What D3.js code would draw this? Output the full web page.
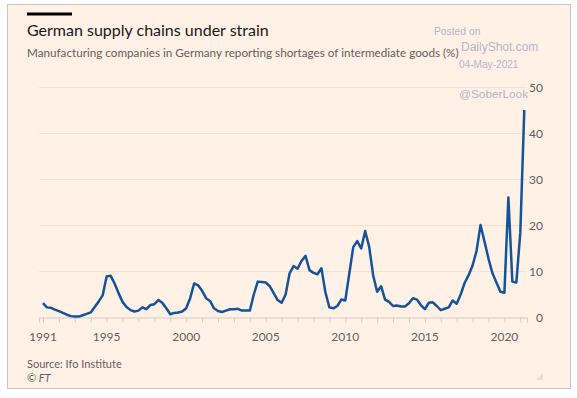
<!DOCTYPE html>
<html>
<head>
<meta charset="utf-8">
<script src="https://cdn.jsdelivr.net/npm/d3@7"></script>
<style>
  body { margin: 0; background: #fff; }
  svg { display: block; }
</style>
</head>
<body>
<div id="chart"></div>
<script>
// Ifo survey, quarterly readings (share of firms reporting shortages, %)
var startYear = 1991;
var shortages = [
  3.1, 2.2, 2.1, 1.7,      // 1991
  1.4, 1.0, 0.6, 0.3,      // 1992
  0.2, 0.2, 0.5, 0.8,      // 1993
  1.1, 2.3, 3.5, 4.8,      // 1994
  8.9, 9.1, 7.4, 5.3,      // 1995
  3.4, 2.3, 1.6, 1.3,      // 1996
  1.5, 2.2, 1.8, 2.7,      // 1997
  2.9, 3.8, 3.2, 2.0,      // 1998
  0.7, 1.0, 1.1, 1.3,      // 1999
  2.0, 4.2, 7.4, 7.0,      // 2000
  5.8, 4.2, 3.6, 2.0,      // 2001
  1.4, 1.2, 1.5, 1.8,      // 2002
  1.8, 1.9, 1.5, 1.5,      // 2003
  1.5, 5.0, 7.8, 7.7,      // 2004
  7.6, 6.8, 5.3, 3.8,      // 2005
  3.2, 5.0, 9.6, 11.2,     // 2006
  10.6, 12.3, 13.4, 10.3,  // 2007
  9.7, 9.4, 10.7, 5.5,     // 2008
  2.2, 2.0, 2.5, 3.9,      // 2009
  3.7, 9.5, 15.3, 16.6,    // 2010
  15.0, 18.8, 15.4, 9.2,   // 2011
  5.6, 6.8, 3.9, 3.4,      // 2012
  2.5, 2.6, 2.4, 2.4,      // 2013
  3.1, 4.2, 3.9, 2.7,      // 2014
  1.8, 3.2, 3.3, 2.5,      // 2015
  1.6, 1.9, 2.2, 3.7,      // 2016
  3.0, 5.0, 7.5, 9.2,      // 2017
  11.3, 14.5, 20.1, 16.5,  // 2018
  12.8, 9.6, 7.6, 5.6,     // 2019
  5.4, 26.1, 7.8, 7.6,     // 2020
  18.5, 45.1               // 2021
];
var yTicks = [0, 10, 20, 30, 40, 50];
var yearLabels = [1991, 1995, 2000, 2005, 2010, 2015, 2020];
var yearTicks = d3.range(1991, 2022);

var width = 577, height = 398;
var bg = "#fff1e6", ink = "#66605c";
var ftFont = "Lato, 'Noto Sans', sans-serif";

var data = shortages.map(function(v, i) { return {t: startYear + i / 4, v: v}; });

var svg = d3.select("#chart").append("svg").attr("width", width).attr("height", height);

// card with frame
svg.append("rect").attr("x", 7.5).attr("y", 4.5).attr("width", 563).attr("height", 384)
  .attr("fill", bg).attr("stroke", "#c6c6c6");

var x = d3.scaleLinear().domain([1990.75, 2021.42]).range([39, 527]);
var y = d3.scaleLinear().domain([0, 50]).range([317.5, 87.5]);

// header
svg.append("rect").attr("x", 27).attr("y", 12.5).attr("width", 45).attr("height", 3).attr("fill", "#000");
svg.append("text").attr("x", 27).attr("y", 36).text("German supply chains under strain")
  .attr("style", "font-size:16px;font-family:" + ftFont).attr("fill", "#1a1817");
svg.append("text").attr("x", 27).attr("y", 57).text("Manufacturing companies in Germany reporting shortages of intermediate goods (%)")
  .attr("style", "font-size:11.7px;font-family:" + ftFont).attr("fill", ink);

// grid
svg.append("g").selectAll("line").data(yTicks.filter(function(d) { return d > 0; })).enter().append("line")
  .attr("x1", x.range()[0]).attr("x2", x.range()[1])
  .attr("y1", function(d) { return y(d); }).attr("y2", function(d) { return y(d); })
  .attr("stroke", "#f3e1d4").attr("stroke-width", 1);

// y axis on the right
var yAxis = svg.append("g").attr("transform", "translate(543,0)")
  .call(d3.axisLeft(y).tickValues(yTicks).tickSize(0).tickPadding(0));
yAxis.select(".domain").remove();
yAxis.selectAll("text").attr("fill", ink).attr("style", "font-size:12px;font-family:" + ftFont);

// x axis
var xAxis = svg.append("g").attr("transform", "translate(0," + y(0) + ")")
  .call(d3.axisBottom(x).tickValues(yearTicks).tickSize(5).tickFormat(""));
xAxis.select(".domain").attr("stroke", "#d6cbc2");
xAxis.selectAll(".tick line").attr("stroke", "#d6cbc2");
svg.append("g").selectAll("text").data(yearLabels).enter().append("text")
  .attr("x", function(d) { return x(d); }).attr("y", 340.5)
  .attr("text-anchor", "middle").text(function(d) { return d; })
  .attr("style", "font-size:12px;font-family:" + ftFont).attr("fill", ink);

// series
var line = d3.line().x(function(d) { return x(d.t); }).y(function(d) { return y(d.v); });
svg.append("path").datum(data).attr("d", line)
  .attr("fill", "none").attr("stroke", "#15549a").attr("stroke-width", 2.5)
  .attr("stroke-linejoin", "round");

// footer
svg.append("text").attr("x", 27).attr("y", 368).text("Source: Ifo Institute")
  .attr("style", "font-size:11px;font-family:" + ftFont).attr("fill", ink);
svg.append("text").attr("x", 27).attr("y", 382).text("\u00a9 FT")
  .attr("style", "font-size:11px;font-style:italic;font-family:" + ftFont).attr("fill", ink);
svg.append("path").attr("d", "M543,373 L543,380 L536,380 Z").attr("fill", "#e6dcd4");

// watermark
var wm = "font-family:'Liberation Sans', Arial, sans-serif;";
svg.append("text").attr("x", 434).attr("y", 34.5).text("Posted on")
  .attr("style", wm + "font-size:10.3px").attr("fill", "#b9b5cb");
svg.append("text").attr("x", 461).attr("y", 51).text("DailyShot.com")
  .attr("style", wm + "font-size:12px").attr("fill", "#b9b5cb");
svg.append("text").attr("x", 459).attr("y", 68).text("04-May-2021")
  .attr("style", wm + "font-size:10.1px").attr("fill", "#b9b5cb");
svg.append("text").attr("x", 459).attr("y", 98).text("@SoberLook")
  .attr("style", wm + "font-size:11.8px").attr("fill", "#b9b5cb");
</script>
</body>
</html>
